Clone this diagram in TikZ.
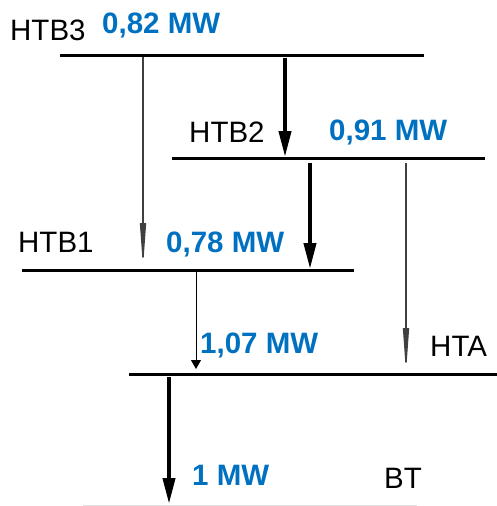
\documentclass[tikz,border=0pt]{standalone}
\usepackage{fontspec}
\setmainfont{Liberation Sans}
\usetikzlibrary{arrows.meta}
\definecolor{mwblue}{HTML}{0070C0}
\begin{document}
\begin{tikzpicture}[x=1pt,y=-1pt,
  bar/.style={line width=3pt,black},
  lbl/.style={inner sep=0pt,anchor=base west,font=\fontsize{29.5}{32}\selectfont},
  val/.style={inner sep=0pt,anchor=base west,font=\fontsize{29.5}{32}\selectfont\bfseries,text=mwblue},
  bigflow/.style={line width=4pt,black,-{Triangle[length=26pt,width=12pt]}},
  grayflow/.style={line width=1.4pt,black!75,-{Triangle[length=45pt,width=6pt]}},
  thinflow/.style={line width=1pt,black,-{Triangle[length=9pt,width=10pt]}}]
\useasboundingbox (0,0) rectangle (497,506);
% bars
\coordinate (b3l) at (60,55);  \coordinate (b3r) at (424,55);
\coordinate (b2l) at (172,158); \coordinate (b2r) at (485,158);
\coordinate (b1l) at (22,270);  \coordinate (b1r) at (354,270);
\coordinate (bal) at (129,374); \coordinate (bar) at (497,374);
\coordinate (btl) at (83,505);  \coordinate (btr) at (417,505);
\draw[bar] (b3l) -- (b3r);
\draw[bar] (b2l) -- (b2r);
\draw[bar] (b1l) -- (b1r);
\draw[bar] (bal) -- (bar);
\draw[line width=1pt,black!12] (btl) -- (btr);
% labels
\node[lbl] (htb3) at (10,40) {HTB3};
\node[val] (v3) at (102,33) {0,82 MW};
\node[lbl] (htb2) at (189,142) {HTB2};
\node[val] (v2) at (329,140) {0,91 MW};
\node[lbl] (htb1) at (18,252) {HTB1};
\node[val] (v1) at (166,252) {0,78 MW};
\node[val] (va) at (200,353) {1,07 MW};
\node[lbl] (hta) at (430,356) {HTA};
\node[val] (vb) at (192,485) {1 MW};
\node[lbl] (bt) at (384,488) {BT};
% arrow ends
\coordinate (a1s) at (285,58);  \coordinate (a1e) at (285,157);
\coordinate (a2s) at (143,57);  \coordinate (a2e) at (143,268);
\coordinate (a3s) at (310,163); \coordinate (a3e) at (310,269);
\coordinate (a4s) at (406,163); \coordinate (a4e) at (406,373);
\coordinate (a5s) at (196,272); \coordinate (a5e) at (196,369);
\coordinate (a6s) at (169,377); \coordinate (a6e) at (169,504);
\draw[bigflow] (a1s) -- (a1e);
\draw[grayflow] (a2s) -- (a2e);
\draw[bigflow] (a3s) -- (a3e);
\draw[grayflow] (a4s) -- (a4e);
\draw[thinflow] (a5s) -- (a5e);
\draw[bigflow] (a6s) -- (a6e);
\end{tikzpicture}
\end{document}
